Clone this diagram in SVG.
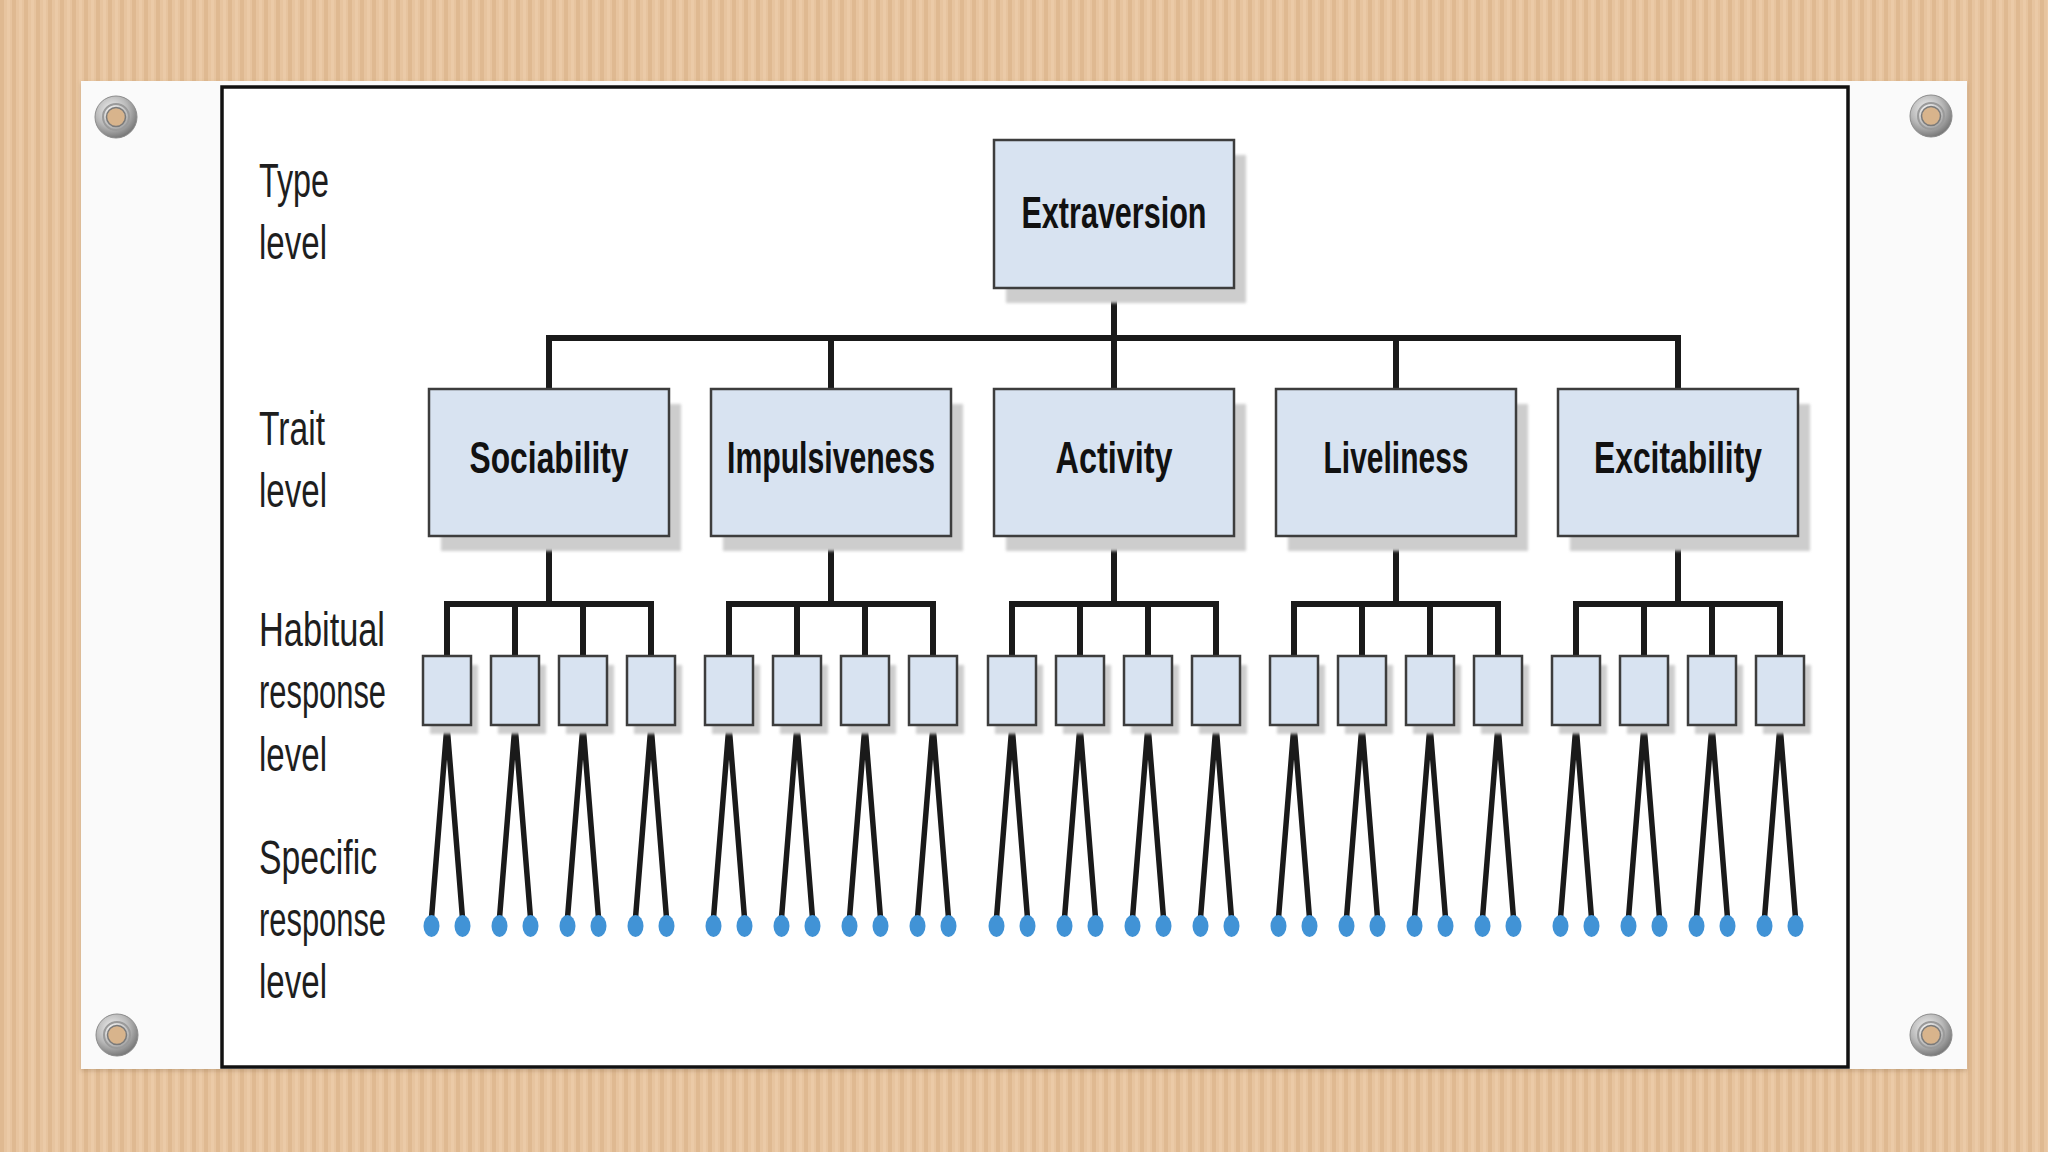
<svg xmlns="http://www.w3.org/2000/svg" width="2048" height="1152" viewBox="0 0 2048 1152">
  <defs>
    <pattern id="stripes" x="0" y="0" width="12" height="1152" patternUnits="userSpaceOnUse">
      <rect x="0" y="0" width="12" height="1152" fill="#e7c49f"/>
      <rect x="0" y="0" width="4" height="1152" fill="#dfb991"/>
      <rect x="7" y="0" width="3" height="1152" fill="#ebcaa7"/>
    </pattern>
    <radialGradient id="metal" cx="40%" cy="35%" r="70%">
      <stop offset="0" stop-color="#f4f4f4"/>
      <stop offset="0.55" stop-color="#b9b9b9"/>
      <stop offset="1" stop-color="#6f6f6f"/>
    </radialGradient>
    <filter id="blur" x="-10%" y="-10%" width="120%" height="120%">
      <feGaussianBlur stdDeviation="1.5"/>
    </filter>
    <filter id="papershadow" x="-5%" y="-5%" width="110%" height="110%">
      <feDropShadow dx="0" dy="2" stdDeviation="2" flood-color="#8a6a4a" flood-opacity="0.35"/>
    </filter>
    <g id="grommet">
      <circle r="21" fill="url(#metal)" stroke="#8c8c8c" stroke-width="1"/>
      <circle r="13" fill="none" stroke="#9a9a9a" stroke-width="2"/>
      <circle r="9.5" fill="#d8b48c" stroke="#7a7a7a" stroke-width="1.5"/>
    </g>
  </defs>
  <style>
    .box { fill: #d8e3f1; stroke: #3d3d3d; stroke-width: 2.5; }
    .shadow { fill: #cdcdcd; filter: url(#blur); }
    .conn { fill: none; stroke: #1a1a1a; stroke-width: 6; stroke-linejoin: miter; }
    .leg { stroke: #1a1a1a; stroke-width: 5.5; }
    .dot { fill: #4193d6; }
    .node-label { font-family: "Liberation Sans", Arial, sans-serif; font-weight: bold; font-size: 45px; fill: #111; text-anchor: middle; }
    .level-label { font-family: "Liberation Sans", Arial, sans-serif; font-size: 48px; fill: #1e1e1e; }
  </style>

  <!-- background -->
  <rect x="0" y="0" width="2048" height="1152" fill="url(#stripes)"/>
  <!-- paper -->
  <rect x="81" y="81" width="1886" height="988" fill="#fafafa" filter="url(#papershadow)"/>
  <!-- inner frame -->
  <rect x="222" y="87" width="1626" height="980" fill="#ffffff" stroke="#111111" stroke-width="3.5"/>
  <!-- grommets -->
  <use href="#grommet" x="116" y="117"/>
  <use href="#grommet" x="1931" y="116"/>
  <use href="#grommet" x="117" y="1035"/>
  <use href="#grommet" x="1931" y="1035"/>

  <!-- level labels -->
  <g id="level-labels">
    <text class="level-label" x="259" y="197" textLength="70" lengthAdjust="spacingAndGlyphs">Type</text>
    <text class="level-label" x="259" y="259" textLength="68" lengthAdjust="spacingAndGlyphs">level</text>
    <text class="level-label" x="259" y="445" textLength="66" lengthAdjust="spacingAndGlyphs">Trait</text>
    <text class="level-label" x="259" y="507" textLength="68" lengthAdjust="spacingAndGlyphs">level</text>
    <text class="level-label" x="259" y="646" textLength="126" lengthAdjust="spacingAndGlyphs">Habitual</text>
    <text class="level-label" x="259" y="708" textLength="127" lengthAdjust="spacingAndGlyphs">response</text>
    <text class="level-label" x="259" y="771" textLength="68" lengthAdjust="spacingAndGlyphs">level</text>
    <text class="level-label" x="259" y="874" textLength="118" lengthAdjust="spacingAndGlyphs">Specific</text>
    <text class="level-label" x="259" y="936" textLength="127" lengthAdjust="spacingAndGlyphs">response</text>
    <text class="level-label" x="259" y="998" textLength="68" lengthAdjust="spacingAndGlyphs">level</text>
  </g>

  <!-- connectors -->
  <g id="connectors">
    <path class="conn" d="M1114 288 V338"/>
    <path class="conn" d="M549 389 V338 H1678 V389"/>
    <path class="conn" d="M831 338 V389 M1114 338 V389 M1396 338 V389"/>
    <!-- trait to habitual brackets -->
    <path class="conn" d="M549 536 V604 M447 656 V604 H651 V656 M515 604 V656 M583 604 V656"/>
    <path class="conn" d="M831 536 V604 M729 656 V604 H933 V656 M797 604 V656 M865 604 V656"/>
    <path class="conn" d="M1114 536 V604 M1012 656 V604 H1216 V656 M1080 604 V656 M1148 604 V656"/>
    <path class="conn" d="M1396 536 V604 M1294 656 V604 H1498 V656 M1362 604 V656 M1430 604 V656"/>
    <path class="conn" d="M1678 536 V604 M1576 656 V604 H1780 V656 M1644 604 V656 M1712 604 V656"/>
    <!-- legs to specific responses -->
    <g id="legs">
      <path class="leg" d="M447 725 L431.5 918 M447 725 L462.5 918 M515 725 L499.5 918 M515 725 L530.5 918 M583 725 L567.5 918 M583 725 L598.5 918 M651 725 L635.5 918 M651 725 L666.5 918"/>
      <path class="leg" d="M729 725 L713.5 918 M729 725 L744.5 918 M797 725 L781.5 918 M797 725 L812.5 918 M865 725 L849.5 918 M865 725 L880.5 918 M933 725 L917.5 918 M933 725 L948.5 918"/>
      <path class="leg" d="M1012 725 L996.5 918 M1012 725 L1027.5 918 M1080 725 L1064.5 918 M1080 725 L1095.5 918 M1148 725 L1132.5 918 M1148 725 L1163.5 918 M1216 725 L1200.5 918 M1216 725 L1231.5 918"/>
      <path class="leg" d="M1294 725 L1278.5 918 M1294 725 L1309.5 918 M1362 725 L1346.5 918 M1362 725 L1377.5 918 M1430 725 L1414.5 918 M1430 725 L1445.5 918 M1498 725 L1482.5 918 M1498 725 L1513.5 918"/>
      <path class="leg" d="M1576 725 L1560.5 918 M1576 725 L1591.5 918 M1644 725 L1628.5 918 M1644 725 L1659.5 918 M1712 725 L1696.5 918 M1712 725 L1727.5 918 M1780 725 L1764.5 918 M1780 725 L1795.5 918"/>
    </g>
  </g>

  <!-- type node -->
  <g id="node-extraversion">
    <rect class="shadow" x="1006" y="155" width="240" height="148"/>
    <rect class="box" x="994" y="140" width="240" height="148"/>
    <text class="node-label" x="1114" y="228" textLength="185" lengthAdjust="spacingAndGlyphs">Extraversion</text>
  </g>

  <!-- trait nodes -->
  <g id="node-sociability">
    <rect class="shadow" x="441" y="404" width="240" height="147"/>
    <rect class="box" x="429" y="389" width="240" height="147"/>
    <text class="node-label" x="549" y="473" textLength="159" lengthAdjust="spacingAndGlyphs">Sociability</text>
  </g>
  <g id="node-impulsiveness">
    <rect class="shadow" x="723" y="404" width="240" height="147"/>
    <rect class="box" x="711" y="389" width="240" height="147"/>
    <text class="node-label" x="831" y="473" textLength="208" lengthAdjust="spacingAndGlyphs">Impulsiveness</text>
  </g>
  <g id="node-activity">
    <rect class="shadow" x="1006" y="404" width="240" height="147"/>
    <rect class="box" x="994" y="389" width="240" height="147"/>
    <text class="node-label" x="1114" y="473" textLength="117" lengthAdjust="spacingAndGlyphs">Activity</text>
  </g>
  <g id="node-liveliness">
    <rect class="shadow" x="1288" y="404" width="240" height="147"/>
    <rect class="box" x="1276" y="389" width="240" height="147"/>
    <text class="node-label" x="1396" y="473" textLength="145" lengthAdjust="spacingAndGlyphs">Liveliness</text>
  </g>
  <g id="node-excitability">
    <rect class="shadow" x="1570" y="404" width="240" height="147"/>
    <rect class="box" x="1558" y="389" width="240" height="147"/>
    <text class="node-label" x="1678" y="473" textLength="168" lengthAdjust="spacingAndGlyphs">Excitability</text>
  </g>

  <!-- habitual response nodes -->
  <g id="habitual-sociability">
    <rect class="shadow" x="430" y="665" width="48" height="69"/><rect class="box" x="423" y="656" width="48" height="69"/>
    <rect class="shadow" x="498" y="665" width="48" height="69"/><rect class="box" x="491" y="656" width="48" height="69"/>
    <rect class="shadow" x="566" y="665" width="48" height="69"/><rect class="box" x="559" y="656" width="48" height="69"/>
    <rect class="shadow" x="634" y="665" width="48" height="69"/><rect class="box" x="627" y="656" width="48" height="69"/>
  </g>
  <g id="habitual-impulsiveness">
    <rect class="shadow" x="712" y="665" width="48" height="69"/><rect class="box" x="705" y="656" width="48" height="69"/>
    <rect class="shadow" x="780" y="665" width="48" height="69"/><rect class="box" x="773" y="656" width="48" height="69"/>
    <rect class="shadow" x="848" y="665" width="48" height="69"/><rect class="box" x="841" y="656" width="48" height="69"/>
    <rect class="shadow" x="916" y="665" width="48" height="69"/><rect class="box" x="909" y="656" width="48" height="69"/>
  </g>
  <g id="habitual-activity">
    <rect class="shadow" x="995" y="665" width="48" height="69"/><rect class="box" x="988" y="656" width="48" height="69"/>
    <rect class="shadow" x="1063" y="665" width="48" height="69"/><rect class="box" x="1056" y="656" width="48" height="69"/>
    <rect class="shadow" x="1131" y="665" width="48" height="69"/><rect class="box" x="1124" y="656" width="48" height="69"/>
    <rect class="shadow" x="1199" y="665" width="48" height="69"/><rect class="box" x="1192" y="656" width="48" height="69"/>
  </g>
  <g id="habitual-liveliness">
    <rect class="shadow" x="1277" y="665" width="48" height="69"/><rect class="box" x="1270" y="656" width="48" height="69"/>
    <rect class="shadow" x="1345" y="665" width="48" height="69"/><rect class="box" x="1338" y="656" width="48" height="69"/>
    <rect class="shadow" x="1413" y="665" width="48" height="69"/><rect class="box" x="1406" y="656" width="48" height="69"/>
    <rect class="shadow" x="1481" y="665" width="48" height="69"/><rect class="box" x="1474" y="656" width="48" height="69"/>
  </g>
  <g id="habitual-excitability">
    <rect class="shadow" x="1559" y="665" width="48" height="69"/><rect class="box" x="1552" y="656" width="48" height="69"/>
    <rect class="shadow" x="1627" y="665" width="48" height="69"/><rect class="box" x="1620" y="656" width="48" height="69"/>
    <rect class="shadow" x="1695" y="665" width="48" height="69"/><rect class="box" x="1688" y="656" width="48" height="69"/>
    <rect class="shadow" x="1763" y="665" width="48" height="69"/><rect class="box" x="1756" y="656" width="48" height="69"/>
  </g>

  <!-- specific response dots -->
  <g id="specific-responses">
    <ellipse class="dot" cx="431.5" cy="926" rx="8" ry="11"/><ellipse class="dot" cx="462.5" cy="926" rx="8" ry="11"/>
    <ellipse class="dot" cx="499.5" cy="926" rx="8" ry="11"/><ellipse class="dot" cx="530.5" cy="926" rx="8" ry="11"/>
    <ellipse class="dot" cx="567.5" cy="926" rx="8" ry="11"/><ellipse class="dot" cx="598.5" cy="926" rx="8" ry="11"/>
    <ellipse class="dot" cx="635.5" cy="926" rx="8" ry="11"/><ellipse class="dot" cx="666.5" cy="926" rx="8" ry="11"/>
    <ellipse class="dot" cx="713.5" cy="926" rx="8" ry="11"/><ellipse class="dot" cx="744.5" cy="926" rx="8" ry="11"/>
    <ellipse class="dot" cx="781.5" cy="926" rx="8" ry="11"/><ellipse class="dot" cx="812.5" cy="926" rx="8" ry="11"/>
    <ellipse class="dot" cx="849.5" cy="926" rx="8" ry="11"/><ellipse class="dot" cx="880.5" cy="926" rx="8" ry="11"/>
    <ellipse class="dot" cx="917.5" cy="926" rx="8" ry="11"/><ellipse class="dot" cx="948.5" cy="926" rx="8" ry="11"/>
    <ellipse class="dot" cx="996.5" cy="926" rx="8" ry="11"/><ellipse class="dot" cx="1027.5" cy="926" rx="8" ry="11"/>
    <ellipse class="dot" cx="1064.5" cy="926" rx="8" ry="11"/><ellipse class="dot" cx="1095.5" cy="926" rx="8" ry="11"/>
    <ellipse class="dot" cx="1132.5" cy="926" rx="8" ry="11"/><ellipse class="dot" cx="1163.5" cy="926" rx="8" ry="11"/>
    <ellipse class="dot" cx="1200.5" cy="926" rx="8" ry="11"/><ellipse class="dot" cx="1231.5" cy="926" rx="8" ry="11"/>
    <ellipse class="dot" cx="1278.5" cy="926" rx="8" ry="11"/><ellipse class="dot" cx="1309.5" cy="926" rx="8" ry="11"/>
    <ellipse class="dot" cx="1346.5" cy="926" rx="8" ry="11"/><ellipse class="dot" cx="1377.5" cy="926" rx="8" ry="11"/>
    <ellipse class="dot" cx="1414.5" cy="926" rx="8" ry="11"/><ellipse class="dot" cx="1445.5" cy="926" rx="8" ry="11"/>
    <ellipse class="dot" cx="1482.5" cy="926" rx="8" ry="11"/><ellipse class="dot" cx="1513.5" cy="926" rx="8" ry="11"/>
    <ellipse class="dot" cx="1560.5" cy="926" rx="8" ry="11"/><ellipse class="dot" cx="1591.5" cy="926" rx="8" ry="11"/>
    <ellipse class="dot" cx="1628.5" cy="926" rx="8" ry="11"/><ellipse class="dot" cx="1659.5" cy="926" rx="8" ry="11"/>
    <ellipse class="dot" cx="1696.5" cy="926" rx="8" ry="11"/><ellipse class="dot" cx="1727.5" cy="926" rx="8" ry="11"/>
    <ellipse class="dot" cx="1764.5" cy="926" rx="8" ry="11"/><ellipse class="dot" cx="1795.5" cy="926" rx="8" ry="11"/>
  </g>
</svg>
